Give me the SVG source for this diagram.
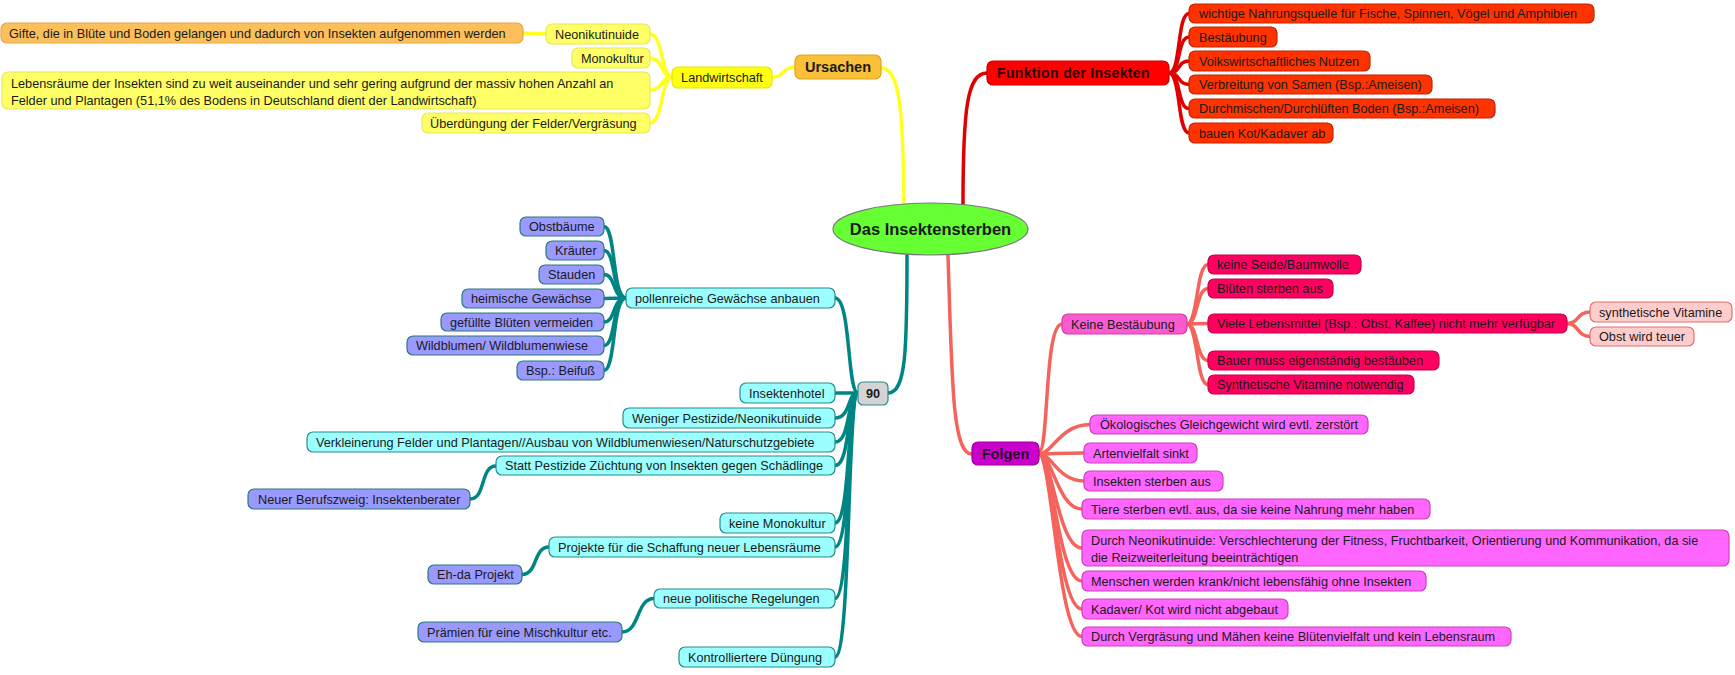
<svg xmlns="http://www.w3.org/2000/svg" width="1735" height="675" viewBox="0 0 1735 675">
<style>
text{font-family:"Liberation Sans",Arial,sans-serif;font-size:12.7px;fill:#1a1a1a}
.b{font-weight:bold}
.c{text-anchor:middle}
rect{stroke-width:1.2}
.yel{fill:#FFFF66;stroke:#E8E85A}
.yel2{fill:#FFFF11;stroke:#E6E600}
.org{fill:#FBC05C;stroke:#E8A845}
.urs{fill:#F9C038;stroke:#E2A41E}
.fun{fill:#FF0000;stroke:#C80000}
.fch{fill:#FF3300;stroke:#C42200}
.cya{fill:#9CFFFF;stroke:#2A8A8A}
.pur{fill:#9999FF;stroke:#2A7A7A}
.gry{fill:#D4D4D4;stroke:#2A8A8A}
.fol{fill:#CC00CC;stroke:#990099}
.kb{fill:#FA5CD0;stroke:#D03CA8}
.crm{fill:#FF0060;stroke:#C80048}
.lpk{fill:#FFCCCC;stroke:#E07070}
.fc{fill:#FF66FF;stroke:#D040B8}
.ly{fill:none;stroke:#FFFF22;stroke-width:3.5;stroke-linecap:round}
.lr{fill:none;stroke:#E00000;stroke-width:3.5;stroke-linecap:round}
.lt{fill:none;stroke:#008585;stroke-width:3.5;stroke-linecap:round}
.ls{fill:none;stroke:#F4645C;stroke-width:3.5;stroke-linecap:round}
</style>
<rect width="1735" height="675" fill="#FFFFFF" stroke="none"/>
<g id="connectors">
<path class="ly" d="M881 68 C900 68 903 110 904 205"/>
<path class="ly" d="M795 67 C782 67 785 77 772 77"/>
<path class="ly" d="M672 77 C661 77 663 34 650 34"/>
<path class="ly" d="M672 77 C661 77 663 58 650 58"/>
<path class="ly" d="M672 77 C661 77 663 90 650 90"/>
<path class="ly" d="M672 77 C661 77 663 123 650 123"/>
<path class="ly" d="M546 34 C535 34 534 33 523 33"/>
<path class="lr" d="M963 204 C963 110 967 73 987 73"/>
<path class="lr" d="M1169 73 C1181 73 1177 13.5 1189 13.5"/>
<path class="lr" d="M1169 73 C1181 73 1177 37 1189 37"/>
<path class="lr" d="M1169 73 C1181 73 1177 61 1189 61"/>
<path class="lr" d="M1169 73 C1181 73 1177 84.5 1189 84.5"/>
<path class="lr" d="M1169 73 C1181 73 1177 108.5 1189 108.5"/>
<path class="lr" d="M1169 73 C1181 73 1177 133 1189 133"/>
<path class="lt" d="M907 255 C907 350 906 393 888 393"/>
<path class="lt" d="M858 393 C847 393 851 298 835 298"/>
<path class="lt" d="M858 393 L835 393"/>
<path class="lt" d="M858 393 C847 393 851 418 835 418"/>
<path class="lt" d="M858 393 C847 393 851 442 835 442"/>
<path class="lt" d="M858 393 C847 393 851 465.5 835 465.5"/>
<path class="lt" d="M858 393 C847 393 851 523 835 523"/>
<path class="lt" d="M858 393 C847 393 851 547 835 547"/>
<path class="lt" d="M858 393 C847 393 851 598.5 835 598.5"/>
<path class="lt" d="M858 393 C847 393 851 657 835 657"/>
<path class="lt" d="M626 298 C612 298 616 226.5 604 226.5"/>
<path class="lt" d="M626 298 C612 298 616 250.5 604 250.5"/>
<path class="lt" d="M626 298 C612 298 616 274.5 604 274.5"/>
<path class="lt" d="M626 298 L604 298.5"/>
<path class="lt" d="M626 298 C612 298 616 322 604 322"/>
<path class="lt" d="M626 298 C612 298 616 345.5 604 345.5"/>
<path class="lt" d="M626 298 C612 298 616 370.5 604 370.5"/>
<path class="lt" d="M496 466 C480 466 486 499 470 499"/>
<path class="lt" d="M549 547 C533 547 538 574.5 522 574.5"/>
<path class="lt" d="M654 598.5 C636 598.5 640 632 622 632"/>
<path class="ls" d="M948 255 C952 380 952 454 972 454"/>
<path class="ls" d="M1039 452 C1049 452 1044 324 1062 324"/>
<path class="ls" d="M1039 454 C1052 454 1060 424.5 1090 424.5"/>
<path class="ls" d="M1039 454 C1052 454 1060 453 1084 453"/>
<path class="ls" d="M1039 454 C1052 454 1058 481 1084 481"/>
<path class="ls" d="M1039 454 C1052 454 1058 509 1082 509"/>
<path class="ls" d="M1039 454 C1052 454 1058 548 1082 548"/>
<path class="ls" d="M1039 454 C1052 454 1058 581 1082 581"/>
<path class="ls" d="M1039 454 C1052 454 1058 609 1082 609"/>
<path class="ls" d="M1039 454 C1052 454 1058 636.5 1082 636.5"/>
<path class="ls" d="M1187 324 C1198 324 1196 264.5 1208 264.5"/>
<path class="ls" d="M1187 324 C1198 324 1196 288.5 1208 288.5"/>
<path class="ls" d="M1187 324 L1208 323.5"/>
<path class="ls" d="M1187 324 C1198 324 1196 360.5 1208 360.5"/>
<path class="ls" d="M1187 324 C1198 324 1196 384.5 1208 384.5"/>
<path class="ls" d="M1567 323.5 C1579 323.5 1577 312 1590 312"/>
<path class="ls" d="M1567 323.5 C1579 323.5 1577 336.5 1590 336.5"/>
</g>
<g id="center"><ellipse cx="930.5" cy="229" rx="97.5" ry="26" fill="#66FF33" stroke="#7A7A7A" stroke-width="1.2"/><text class="b c" x="930.5" y="235" style="font-size:16.5px">Das Insektensterben</text></g>
<g id="n_ursachen"><rect class="urs" x="795" y="55" width="86" height="24" rx="6"/><text class="b c" x="838" y="72" style="font-size:14.5px">Ursachen</text></g>
<g id="n_landwirtschaft"><rect class="yel2" x="672" y="67" width="100" height="21" rx="6"/><text class="c" x="722" y="82">Landwirtschaft</text></g>
<g id="n_neonikutinuide"><rect class="yel" x="546" y="24" width="104" height="20" rx="6"/><text x="555" y="38.5">Neonikutinuide</text></g>
<g id="n_gifte"><rect class="org" x="1" y="23" width="522" height="20" rx="6"/><text x="9" y="37.5">Gifte, die in Blüte und Boden gelangen und dadurch von Insekten aufgenommen werden</text></g>
<g id="n_monokultur"><rect class="yel" x="572" y="48" width="78" height="20" rx="6"/><text x="581" y="62.5">Monokultur</text></g>
<g id="n_lebensraeume"><rect class="yel" x="2" y="72" width="648" height="37" rx="6"/><text x="11" y="87.5">Lebensräume der Insekten sind zu weit auseinander und sehr gering aufgrund der massiv hohen Anzahl an</text><text x="11" y="104.5">Felder und Plantagen (51,1% des Bodens in Deutschland dient der Landwirtschaft)</text></g>
<g id="n_ueberduengung"><rect class="yel" x="422" y="113" width="228" height="20" rx="6"/><text x="430" y="127.5">Überdüngung der Felder/Vergräsung</text></g>
<g id="n_funktion"><rect class="fun" x="987" y="61" width="182" height="24" rx="6"/><text class="b" x="997" y="78" style="font-size:14px;letter-spacing:0.35px;fill:#2a0000">Funktion der Insekten</text></g>
<g id="n_f1"><rect class="fch" x="1189" y="4" width="405" height="19" rx="6"/><text x="1199" y="18">wichtige Nahrungsquelle für Fische, Spinnen, Vögel und Amphibien</text></g>
<g id="n_f2"><rect class="fch" x="1189" y="27" width="88" height="20" rx="6"/><text x="1199" y="41.5">Bestäubung</text></g>
<g id="n_f3"><rect class="fch" x="1189" y="51" width="181" height="20" rx="6"/><text x="1199" y="65.5">Volkswirtschaftliches Nutzen</text></g>
<g id="n_f4"><rect class="fch" x="1189" y="75" width="243" height="19" rx="6"/><text x="1199" y="89">Verbreitung von Samen (Bsp.:Ameisen)</text></g>
<g id="n_f5"><rect class="fch" x="1189" y="99" width="306" height="19" rx="6"/><text x="1199" y="113">Durchmischen/Durchlüften Boden (Bsp.:Ameisen)</text></g>
<g id="n_f6"><rect class="fch" x="1189" y="123" width="144" height="20" rx="6"/><text x="1199" y="137.5">bauen Kot/Kadaver ab</text></g>
<g id="n_90"><rect class="gry" x="858" y="382" width="30" height="23" rx="5"/><text class="b c" x="873" y="398">90</text></g>
<g id="n_pollenreiche"><rect class="cya" x="626" y="288" width="209" height="20" rx="6"/><text x="635" y="302.5">pollenreiche Gewächse anbauen</text></g>
<g id="n_insektenhotel"><rect class="cya" x="740" y="383" width="95" height="20" rx="6"/><text x="749" y="397.5">Insektenhotel</text></g>
<g id="n_weniger"><rect class="cya" x="623" y="408" width="212" height="20" rx="6"/><text x="632" y="422.5">Weniger Pestizide/Neonikutinuide</text></g>
<g id="n_verkleinerung"><rect class="cya" x="307" y="432" width="528" height="20" rx="6"/><text x="316" y="446.5">Verkleinerung Felder und Plantagen//Ausbau von Wildblumenwiesen/Naturschutzgebiete</text></g>
<g id="n_statt"><rect class="cya" x="496" y="456" width="339" height="19" rx="6"/><text x="505" y="470">Statt Pestizide Züchtung von Insekten gegen Schädlinge</text></g>
<g id="n_keinemono"><rect class="cya" x="720" y="513" width="115" height="20" rx="6"/><text x="729" y="527.5">keine Monokultur</text></g>
<g id="n_projekte"><rect class="cya" x="549" y="537" width="286" height="20" rx="6"/><text x="558" y="551.5">Projekte für die Schaffung neuer Lebensräume</text></g>
<g id="n_politisch"><rect class="cya" x="654" y="589" width="181" height="19" rx="6"/><text x="663" y="603">neue politische Regelungen</text></g>
<g id="n_duengung"><rect class="cya" x="679" y="647" width="156" height="20" rx="6"/><text x="688" y="661.5">Kontrolliertere Düngung</text></g>
<g id="n_obst"><rect class="pur" x="520" y="217" width="84" height="19" rx="6"/><text x="529" y="231">Obstbäume</text></g>
<g id="n_kraeuter"><rect class="pur" x="546" y="241" width="58" height="19" rx="6"/><text x="555" y="255">Kräuter</text></g>
<g id="n_stauden"><rect class="pur" x="539" y="265" width="65" height="19" rx="6"/><text x="548" y="279">Stauden</text></g>
<g id="n_heimisch"><rect class="pur" x="462" y="289" width="142" height="19" rx="6"/><text x="471" y="303">heimische Gewächse</text></g>
<g id="n_gefuellt"><rect class="pur" x="441" y="313" width="163" height="18" rx="6"/><text x="450" y="326.5">gefüllte Blüten vermeiden</text></g>
<g id="n_wildblumen"><rect class="pur" x="407" y="336" width="197" height="19" rx="6"/><text x="416" y="350">Wildblumen/ Wildblumenwiese</text></g>
<g id="n_beifuss"><rect class="pur" x="517" y="361" width="87" height="19" rx="6"/><text x="526" y="375">Bsp.: Beifuß</text></g>
<g id="n_berater"><rect class="pur" x="248" y="489" width="222" height="20" rx="6"/><text x="258" y="503.5">Neuer Berufszweig: Insektenberater</text></g>
<g id="n_ehda"><rect class="pur" x="428" y="565" width="94" height="19" rx="6"/><text x="437" y="579">Eh-da Projekt</text></g>
<g id="n_praemien"><rect class="pur" x="418" y="622" width="204" height="20" rx="6"/><text x="427" y="636.5">Prämien für eine Mischkultur etc.</text></g>
<g id="n_folgen"><rect class="fol" x="972" y="442" width="67" height="23" rx="6"/><text class="b c" x="1005.5" y="459" style="font-size:14.5px;fill:#2a0030">Folgen</text></g>
<g id="n_keinebest"><rect class="kb" x="1062" y="314" width="125" height="20" rx="6"/><text x="1071" y="328.5">Keine Bestäubung</text></g>
<g id="n_k1"><rect class="crm" x="1208" y="255" width="153" height="19" rx="6"/><text x="1217" y="269">keine Seide/Baumwolle</text></g>
<g id="n_k2"><rect class="crm" x="1208" y="279" width="125" height="19" rx="6"/><text x="1217" y="293">Blüten sterben aus</text></g>
<g id="n_k3"><rect class="crm" x="1208" y="314" width="359" height="19" rx="6"/><text x="1217" y="328">Viele Lebensmittel (Bsp.: Obst, Kaffee) nicht mehr verfügbar</text></g>
<g id="n_k4"><rect class="crm" x="1208" y="351" width="231" height="19" rx="6"/><text x="1217" y="365">Bauer muss eigenständig bestäuben</text></g>
<g id="n_k5"><rect class="crm" x="1208" y="375" width="206" height="19" rx="6"/><text x="1217" y="389">Synthetische Vitamine notwendig</text></g>
<g id="n_synvit"><rect class="lpk" x="1590" y="302" width="142" height="20" rx="6"/><text x="1599" y="316.5">synthetische Vitamine</text></g>
<g id="n_obstteuer"><rect class="lpk" x="1590" y="327" width="104" height="19" rx="6"/><text x="1599" y="341">Obst wird teuer</text></g>
<g id="n_g1"><rect class="fc" x="1090" y="415" width="278" height="19" rx="6"/><text x="1100" y="429">Ökologisches Gleichgewicht wird evtl. zerstört</text></g>
<g id="n_g2"><rect class="fc" x="1084" y="443" width="113" height="20" rx="6"/><text x="1093" y="457.5">Artenvielfalt sinkt</text></g>
<g id="n_g3"><rect class="fc" x="1084" y="471" width="139" height="20" rx="6"/><text x="1093" y="485.5">Insekten sterben aus</text></g>
<g id="n_g4"><rect class="fc" x="1082" y="499" width="348" height="20" rx="6"/><text x="1091" y="513.5">Tiere sterben evtl. aus, da sie keine Nahrung mehr haben</text></g>
<g id="n_g5"><rect class="fc" x="1082" y="530" width="647" height="36" rx="6"/><text x="1091" y="544.5">Durch Neonikutinuide: Verschlechterung der Fitness, Fruchtbarkeit, Orientierung und Kommunikation, da sie</text><text x="1091" y="561.5">die Reizweiterleitung beeinträchtigen</text></g>
<g id="n_g6"><rect class="fc" x="1082" y="571" width="344" height="20" rx="6"/><text x="1091" y="585.5">Menschen werden krank/nicht lebensfähig ohne Insekten</text></g>
<g id="n_g7"><rect class="fc" x="1082" y="599" width="206" height="20" rx="6"/><text x="1091" y="613.5">Kadaver/ Kot wird nicht abgebaut</text></g>
<g id="n_g8"><rect class="fc" x="1082" y="627" width="429" height="19" rx="6"/><text x="1091" y="641">Durch Vergräsung und Mähen keine Blütenvielfalt und kein Lebensraum</text></g>
</svg>
